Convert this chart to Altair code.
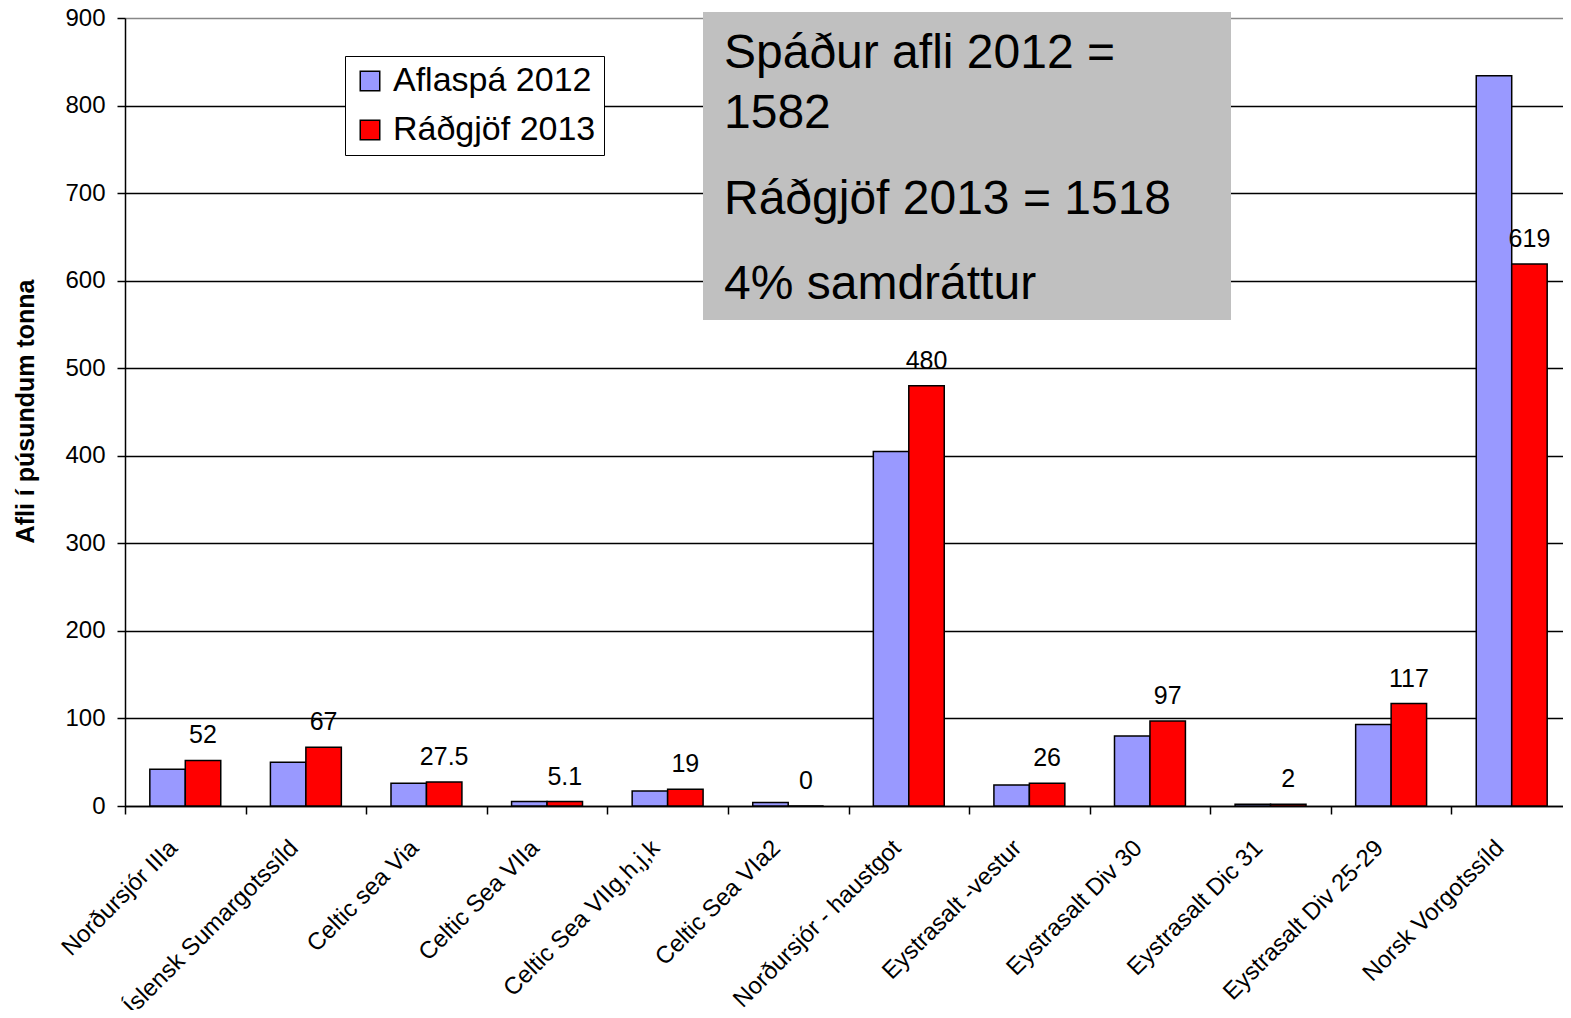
import altair as alt
import pandas as pd

categories = [
    "Norðursjór IIIa", "Íslensk Sumargotssíld", "Celtic sea Via", "Celtic Sea VIIa",
    "Celtic Sea VIIg,h,j,k", "Celtic Sea VIa2", "Norðursjór - haustgot", "Eystrasalt -vestur",
    "Eystrasalt Div 30", "Eystrasalt Dic 31", "Eystrasalt Div 25-29", "Norsk Vorgotssíld",
]
aflaspa_2012 = [42, 50, 26, 5, 17, 4, 405, 24, 80, 2, 93, 834]
radgjof_2013 = [52, 67, 27.5, 5.1, 19, 0, 480, 26, 97, 2, 117, 619]
series = ["Aflaspá 2012", "Ráðgjöf 2013"]
colors = ["#9999FF", "#FF0000"]
y_ticks = [0, 100, 200, 300, 400, 500, 600, 700, 800, 900]
y_title = "Afli í púsundum tonna"
box_lines = ["Spáður afli 2012 =", "1582", "Ráðgjöf 2013 = 1518", "4% samdráttur"]

rows = []
for c, a, r in zip(categories, aflaspa_2012, radgjof_2013):
    rows.append({"cat": c, "series": series[0], "value": a, "label": f"{a:g}"})
    rows.append({"cat": c, "series": series[1], "value": r, "label": f"{r:g}"})
df = pd.DataFrame(rows)

FONT = "Liberation Sans"

x_enc = alt.X(
    "cat:N", sort=categories, title=None,
    scale=alt.Scale(paddingInner=0, paddingOuter=0, round=False, range=[0, 1447]),
    axis=alt.Axis(labelAngle=-45, labelAlign="right", labelBaseline="middle",
                  labelFontSize=24, labelPadding=30, labelOffset=-12, labelLimit=500,
                  tickBand="extent", tickSize=8, tickColor="black", tickWidth=1.5,
                  domainColor="black", domainWidth=1.5, grid=False, labelColor="black",
                  labelFont=FONT),
)
xo_enc = alt.XOffset("series:N", scale=alt.Scale(domain=series, paddingOuter=0.7,
                                                  paddingInner=0, round=False))
y_enc = alt.Y(
    "value:Q", title=y_title,
    scale=alt.Scale(domain=[0, 900], nice=False, zero=True),
    axis=alt.Axis(values=y_ticks, labelFontSize=24, labelPadding=12, tickSize=8,
                  tickColor="black", tickWidth=1.5, domainColor="black", domainWidth=1.5,
                  grid=True,
                  gridColor=alt.condition("datum.value === 900", alt.value("#888888"),
                                          alt.value("black")),
                  gridWidth=1.5, labelColor="black",
                  titleFontSize=25, titleFontWeight="bold", titleColor="black",
                  titleAngle=270, titleX=-100, titleY=393, titleAlign="center",
                  titleBaseline="middle", labelFont=FONT, titleFont=FONT, titleLimit=600),
)

bars = alt.Chart(df).mark_bar(stroke="black", strokeWidth=1.5).encode(
    x=x_enc, xOffset=xo_enc, y=y_enc,
    color=alt.Color("series:N", scale=alt.Scale(domain=series, range=colors),
                    legend=alt.Legend(title=None, orient="none", legendX=220, legendY=38,
                                      strokeColor="black", fillColor="white",
                                      padding=8, labelFontSize=34, labelFont=FONT,
                                      labelColor="black", symbolType="square",
                                      symbolSize=380, symbolStrokeColor="black",
                                      symbolStrokeWidth=1.5, rowPadding=15,
                                      labelOffset=6, labelLimit=500, cornerRadius=0,
                                      symbolOpacity=1)),
)

labels = alt.Chart(df).transform_filter(
    alt.datum.series == series[1]
).mark_text(fontSize=25, font=FONT, color="black", dy=-25, baseline="middle").encode(
    x=x_enc, xOffset=xo_enc, y=y_enc, text="label:N",
)

box_df = pd.DataFrame({"k": [0]})
box = alt.Chart(box_df).mark_rect(color="#C0C0C0").encode(
    x=alt.value(578), x2=alt.value(1106), y=alt.value(-6), y2=alt.value(302),
)
text_layers = []
for line, ypix in zip(box_lines, [50, 110, 196, 281]):
    text_layers.append(
        alt.Chart(box_df).mark_text(text=line, fontSize=48, font=FONT, color="black",
                                    align="left", baseline="alphabetic").encode(
            x=alt.value(599), y=alt.value(ypix)
        )
    )

chart = alt.layer(bars, labels, box, *text_layers).properties(
    width=1438, height=788,
    autosize=alt.AutoSizeParams(type="none"),
    padding={"left": 117, "top": 10, "right": 0, "bottom": 204},
).configure_view(stroke=None).configure(font=FONT)

chart.save("out.html", embed_options={"renderer": "svg", "actions": False})
